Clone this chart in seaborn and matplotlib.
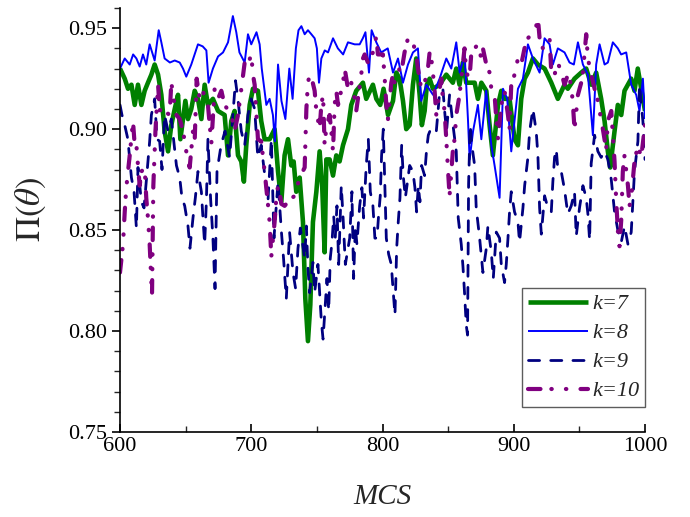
import numpy as np
import matplotlib
matplotlib.use("Agg")
import matplotlib.pyplot as plt
import seaborn as sns
from matplotlib.ticker import MultipleLocator

# ---------------- data ----------------
labels = ["k=7", "k=8", "k=9", "k=10"]

k7_mcs = [600, 603.6, 606.1, 608.7, 611.2, 613.7, 616.3, 618.8, 621.3, 623.9, 626.4, 629, 631.5, 634, 636.6,
          639.1, 641.7, 644.2, 646, 648, 649.8, 651.8, 654.3, 656.9, 659.4, 662, 664.5, 667, 670.8, 674.7,
          679.7, 682.3, 684.8, 687.3, 689.9, 692.4, 694.4, 696.2, 698.8, 701.3, 705.1, 707.6, 710.2, 714,
          717.8, 720.4, 722.9, 725.4, 728, 730.5, 732.3, 734.3, 736.9, 739.4, 741.2, 743.2, 745, 747, 749.6,
          752.1, 754.1, 755.9, 757.2, 759.7, 762.3, 764.8, 767.3, 769.9, 773.7, 776.2, 780, 785.1, 787.6,
          792.7, 795.3, 798.3, 800.8, 804.2, 808, 810.5, 813, 815.6, 818.1, 820.7, 823.2, 825.7, 828.3, 830,
          832.1, 833.8, 835.9, 838.4, 843.5, 848.6, 853.6, 856.2, 858.7, 861.2, 863.8, 867.6, 870.2, 872.7,
          875.3, 879.1, 881.6, 884.1, 888, 890.5, 893, 896.8, 900.6, 903.2, 905.7, 908.3, 910.8, 914.6, 918.4,
          923.5, 928.6, 933.6, 938.7, 941.2, 946.3, 951.4, 955.2, 959, 962.8, 966.6, 969.2, 971.7, 973.5,
          976.8, 979.3, 981.9, 984.4, 989.5, 992, 994.5, 997.1, 1000]
k7_pi = [0.930, 0.925, 0.920, 0.922, 0.912, 0.922, 0.912, 0.919, 0.923, 0.927, 0.932, 0.927, 0.917, 0.899, 0.889,
         0.902, 0.910, 0.917, 0.895, 0.905, 0.914, 0.905, 0.910, 0.919, 0.915, 0.905, 0.922, 0.912, 0.915, 0.909,
         0.907, 0.887, 0.904, 0.909, 0.887, 0.884, 0.874, 0.892, 0.912, 0.920, 0.919, 0.904, 0.895, 0.895,
         0.900, 0.879, 0.864, 0.887, 0.895, 0.882, 0.884, 0.869, 0.876, 0.854, 0.816, 0.795, 0.813, 0.854, 0.869,
         0.889, 0.871, 0.839, 0.885, 0.885, 0.877, 0.887, 0.884, 0.892, 0.900, 0.912, 0.919, 0.923, 0.915,
         0.922, 0.915, 0.912, 0.920, 0.907, 0.914, 0.928, 0.925, 0.914, 0.900, 0.902, 0.922, 0.935, 0.917, 0.902,
         0.909, 0.922, 0.925, 0.920, 0.922, 0.927, 0.923, 0.930, 0.922, 0.933, 0.923, 0.923, 0.923, 0.915,
         0.923, 0.919, 0.902, 0.887, 0.912, 0.919, 0.915, 0.915, 0.895, 0.892, 0.915, 0.925, 0.928, 0.935, 0.932,
         0.930, 0.923, 0.915, 0.922, 0.920, 0.925, 0.928, 0.930, 0.922, 0.928, 0.915, 0.904, 0.889, 0.881,
         0.899, 0.912, 0.907, 0.919, 0.925, 0.919, 0.930, 0.920, 0.909]

k8_mcs = [600, 603.6, 607.4, 610, 612.5, 615, 617.5, 620, 622.6, 626.4, 629.5, 631.5, 634, 638, 641.7, 645.5,
          648, 650.5, 654.3, 659.4, 663, 665.8, 667.5, 670.8, 674.7, 678.5, 682.3, 686, 688.6, 691, 695, 697.5,
          700, 704, 706.4, 708, 711.5, 714, 716.5, 718, 720.4, 723, 726, 729, 731.5, 734, 736, 738.2, 740.7,
          743.2, 745.8, 748.3, 750, 751.6, 753.4, 756, 758.5, 762.3, 766, 770, 773.7, 778.8, 782.6, 785, 787,
          789.7, 791.7, 795.3, 799, 804, 808, 811.8, 815.6, 819.4, 823.2, 827, 829.5, 833.4, 838.5, 843.5,
          848.6, 852.4, 856.2, 858.8, 862.6, 865.1, 866.4, 869, 872.7, 875.3, 879, 882.9, 885.4, 889.2, 891.8,
          895, 898.1, 903.2, 907, 910.8, 914.6, 919.7, 923.5, 927.3, 929.8, 933.6, 938.7, 942.5, 945.8, 948.9,
          952.7, 956.5, 960.3, 962.8, 965.4, 969.2, 971.7, 975.5, 979.3, 981.8, 985.7, 989.5, 993.3, 995.8,
          998.4, 1000]
k8_pi = [0.930, 0.935, 0.932, 0.937, 0.935, 0.931, 0.937, 0.932, 0.942, 0.934, 0.949, 0.943, 0.935, 0.933, 0.934,
         0.933, 0.930, 0.926, 0.932, 0.942, 0.941, 0.939, 0.923, 0.930, 0.936, 0.938, 0.943, 0.956, 0.948, 0.938,
         0.933, 0.947, 0.942, 0.948, 0.942, 0.930, 0.912, 0.915, 0.907, 0.894, 0.932, 0.914, 0.905, 0.930, 0.915,
         0.940, 0.949, 0.951, 0.947, 0.949, 0.947, 0.945, 0.940, 0.923, 0.935, 0.939, 0.938, 0.945, 0.940, 0.937,
         0.943, 0.942, 0.942, 0.945, 0.948, 0.928, 0.949, 0.943, 0.938, 0.940, 0.928, 0.935, 0.923, 0.932, 0.938,
         0.940, 0.914, 0.922, 0.917, 0.925, 0.935, 0.930, 0.943, 0.928, 0.937, 0.905, 0.885, 0.899, 0.912, 0.895,
         0.919, 0.892, 0.882, 0.866, 0.920, 0.915, 0.889, 0.920, 0.925, 0.942, 0.935, 0.928, 0.945, 0.942, 0.932,
         0.940, 0.938, 0.933, 0.932, 0.943, 0.932, 0.927, 0.897, 0.932, 0.942, 0.932, 0.933, 0.943, 0.940, 0.937,
         0.938, 0.922, 0.917, 0.909, 0.925, 0.905]

k9_mcs = [600, 601.5, 603.6, 606, 608.7, 610.7, 612.5, 613.7, 616.3, 618.3, 620, 622.6, 623.9, 626.4, 628.2,
          630.2, 632, 634, 636.6, 639.1, 643, 645.5, 647.2, 649.3, 651.8, 653.3, 655.6, 657.4, 659.4, 662,
          663.2, 664.5, 665.8, 667, 669, 670.8, 672.4, 673.9, 677, 680, 683.5, 686, 688, 690, 692.4, 695, 697.5,
          700, 702.6, 705, 707.6, 710, 712.7, 715.3, 717.3, 720.4, 723, 724.6, 726.7, 729.2, 731.8, 733.8,
          735.6, 737.4, 740.7, 742, 743.2, 744.5, 747, 748.3, 750.8, 753.4, 754.7, 756.4, 757.7, 759, 760.2,
          761.5, 762.8, 764, 765.3, 766.6, 768.6, 769.9, 771.7, 775, 776.7, 778, 779.3, 780.5, 782.6, 784.3,
          785.6, 787.6, 789.2, 790.7, 792.7, 794.2, 795.8, 797, 798.3, 799.3, 800.6, 802.9, 804.7, 806.7, 808,
          809.5, 810.8, 812, 813.3, 814.6, 815.8, 817.4, 820.7, 823.2, 824.7, 826, 827.3, 828.5, 829.8, 832.1,
          833.6, 834.9, 836.1, 838.4, 841, 843.5, 846, 847.6, 848.8, 851.1, 853.7, 856.2, 857.7, 860, 861.3,
          862.5, 863.8, 864.8, 865.6, 866.8, 868.1, 870.2, 871.4, 874, 876.5, 879.1, 880.3, 882.9, 884.4, 886.7,
          889.2, 890.5, 893, 894.3, 895.6, 896.8, 898.1, 900.6, 903.2, 904.4, 907, 908.3, 910.8, 912.1, 914.6,
          917.1, 918.4, 919.7, 921, 923.5, 926, 928.6, 929.8, 931.1, 932.4, 933.6, 936.2, 938.7, 941.2, 943.8,
          946.3, 947.6, 950.1, 952.7, 955.2, 956.5, 957.8, 959, 961.6, 964.1, 966.6, 969.2, 971.7, 974.3, 976.8,
          979.3, 981.9, 984.4, 987, 989.5, 992, 994.6, 995.8, 998.4, 1000]
k9_pi = [0.912, 0.907, 0.902, 0.895, 0.876, 0.869, 0.851, 0.881, 0.864, 0.861, 0.874, 0.894, 0.907, 0.915, 0.895,
         0.894, 0.880, 0.907, 0.899, 0.905, 0.882, 0.876, 0.866, 0.862, 0.852, 0.841, 0.856, 0.866, 0.879, 0.869,
         0.856, 0.843, 0.864, 0.895, 0.866, 0.846, 0.821, 0.879, 0.892, 0.899, 0.886, 0.907, 0.924, 0.914, 0.899,
         0.892, 0.907, 0.915, 0.910, 0.886, 0.892, 0.879, 0.864, 0.895, 0.846, 0.874, 0.849, 0.836, 0.816, 0.849,
         0.829, 0.821, 0.841, 0.851, 0.836, 0.852, 0.831, 0.819, 0.834, 0.819, 0.833, 0.805, 0.796, 0.813, 0.826,
         0.810, 0.836, 0.844, 0.857, 0.846, 0.862, 0.833, 0.872, 0.857, 0.833, 0.846, 0.869, 0.826, 0.852, 0.843,
         0.862, 0.871, 0.856, 0.882, 0.895, 0.869, 0.862, 0.846, 0.846, 0.857, 0.867, 0.887, 0.900, 0.846, 0.838,
         0.833, 0.821, 0.808, 0.841, 0.854, 0.866, 0.892, 0.877, 0.866, 0.882, 0.879, 0.871, 0.859, 0.872, 0.864,
         0.882, 0.877, 0.890, 0.897, 0.899, 0.897, 0.899, 0.918, 0.920, 0.907, 0.899, 0.917, 0.902, 0.889, 0.856,
         0.843, 0.832, 0.819, 0.803, 0.798, 0.873, 0.902, 0.892, 0.882, 0.861, 0.846, 0.829, 0.841, 0.852, 0.839,
         0.826, 0.849, 0.846, 0.833, 0.824, 0.833, 0.846, 0.859, 0.869, 0.859, 0.854, 0.844, 0.861, 0.872, 0.886,
         0.899, 0.910, 0.899, 0.887, 0.861, 0.848, 0.867, 0.861, 0.859, 0.874, 0.886, 0.890, 0.880, 0.879, 0.870,
         0.858, 0.862, 0.869, 0.847, 0.861, 0.872, 0.866, 0.858, 0.845, 0.883, 0.897, 0.889, 0.886, 0.889, 0.885,
         0.875, 0.859, 0.850, 0.844, 0.852, 0.843, 0.849, 0.879, 0.894, 0.922, 0.904, 0.885]

k10_mcs = [600, 602.3, 603.6, 604.8, 606.1, 607.4, 609.9, 611.2, 612.5, 613.7, 615, 616.3, 618.8, 620, 621.3,
           622.6, 623.9, 624.4, 625.4, 627, 629, 630.2, 632, 634, 637.8, 639.1, 640.9, 643, 645.5, 648, 650.5,
           653.1, 655.6, 656.9, 658.4, 660.7, 663.2, 665, 667, 669.6, 672.1, 674.7, 677.2, 679.7, 684.8, 687.3,
           689.9, 695, 697.5, 700, 701.3, 702.6, 705.1, 707.6, 710.2, 712.7, 714, 715.3, 717.8, 719.1, 720.4,
           721.6, 722.9, 725.4, 728, 733, 736.9, 740.7, 742, 743.2, 744.5, 746.5, 748.3, 749.6, 752.1, 753.4,
           754.7, 755.9, 757.2, 759.7, 761, 762.3, 763.5, 764.8, 766.1, 769.9, 771.2, 773.7, 776.2, 778.8, 780,
           783.8, 785.1, 786.4, 788.9, 792.7, 795.3, 796.5, 800.3, 801.6, 802.9, 804.2, 806.7, 808, 809.2, 813,
           814.3, 816.8, 819.4, 821.9, 824.5, 825.7, 827, 829.5, 832.1, 834.6, 835.9, 837.2, 838.4, 839.7, 841,
           843.5, 844.8, 846, 847.3, 848.6, 849.8, 851.1, 853.7, 854.9, 856.2, 858.7, 861.2, 862.5, 863.8, 866.3,
           867.6, 870.2, 872.7, 875.3, 876.5, 879.1, 881.6, 882.9, 885.4, 886.7, 888, 890.5, 893, 895.6, 896.8,
           898.1, 900.6, 903.2, 905.7, 908.2, 910.8, 914.6, 917.1, 918.4, 919.7, 922.2, 924.7, 927.3, 928.6,
           931.1, 933.6, 936.2, 938.7, 941.2, 943.8, 945.1, 946.3, 948.9, 951.4, 952.7, 955.2, 956.5, 959, 961.6,
           964.1, 965.4, 967.9, 970.4, 971.7, 974.3, 975.5, 976.8, 978.1, 979.5, 980.6, 981.9, 983.1, 984.4, 987,
           988.2, 989.5, 992, 994.6, 997.1, 1000]
k10_pi = [0.829, 0.843, 0.859, 0.871, 0.879, 0.887, 0.904, 0.892, 0.892, 0.882, 0.872, 0.879, 0.881, 0.866, 0.856,
          0.843, 0.824, 0.818, 0.872, 0.899, 0.922, 0.910, 0.907, 0.909, 0.907, 0.923, 0.915, 0.907, 0.905, 0.899,
          0.889, 0.881, 0.899, 0.894, 0.925, 0.915, 0.919, 0.914, 0.912, 0.893, 0.920, 0.915, 0.919, 0.912, 0.907,
          0.899, 0.907, 0.933, 0.932, 0.937, 0.927, 0.922, 0.895, 0.894, 0.879, 0.863, 0.854, 0.837, 0.854, 0.866,
          0.872, 0.869, 0.863, 0.862, 0.864, 0.867, 0.876, 0.881, 0.910, 0.923, 0.927, 0.924, 0.919, 0.909, 0.900,
          0.912, 0.917, 0.892, 0.901, 0.907, 0.899, 0.889, 0.912, 0.919, 0.912, 0.923, 0.930, 0.920, 0.923, 0.915,
          0.909, 0.927, 0.935, 0.937, 0.933, 0.938, 0.946, 0.937, 0.937, 0.926, 0.912, 0.905, 0.923, 0.927, 0.923,
          0.930, 0.928, 0.938, 0.945, 0.945, 0.940, 0.937, 0.930, 0.920, 0.923, 0.930, 0.938, 0.935, 0.928, 0.919,
          0.907, 0.920, 0.925, 0.915, 0.909, 0.895, 0.881, 0.867, 0.890, 0.895, 0.907, 0.917, 0.932, 0.940, 0.928,
          0.925, 0.937, 0.940, 0.942, 0.935, 0.940, 0.932, 0.928, 0.920, 0.917, 0.905, 0.895, 0.912, 0.919, 0.907,
          0.900, 0.922, 0.927, 0.935, 0.932, 0.940, 0.945, 0.948, 0.951, 0.955, 0.945, 0.940, 0.943, 0.945, 0.928,
          0.927, 0.933, 0.928, 0.922, 0.927, 0.922, 0.912, 0.900, 0.917, 0.923, 0.928, 0.947, 0.935, 0.927, 0.920,
          0.914, 0.909, 0.900, 0.890, 0.904, 0.909, 0.897, 0.884, 0.864, 0.848, 0.842, 0.855, 0.879, 0.887, 0.872,
          0.862, 0.866, 0.884, 0.892, 0.886, 0.902]

x_ticks = [600, 700, 800, 900, 1000]
y_ticks = [0.75, 0.80, 0.85, 0.90, 0.95]

# ---------------- style ----------------
sns.set_theme(style="ticks")
plt.rcParams["font.family"] = ["Liberation Serif", "DejaVu Serif"]
plt.rcParams["mathtext.fontset"] = "stix"
plt.rcParams["axes.edgecolor"] = "black"
plt.rcParams["axes.linewidth"] = 1.2

fig = plt.figure(figsize=(6.9, 5.17), dpi=100)
ax = fig.add_axes([120 / 690, 1 - 432 / 517, 525 / 690, 424 / 517])

series = [
    (k7_mcs, k7_pi, labels[0], "#008000", 3.3, "-"),
    (k8_mcs, k8_pi, labels[1], "#0000FF", 1.4, "-"),
    (k9_mcs, k9_pi, labels[2], "#000080", 2.0, (0, (4.0, 4.0))),
    (k10_mcs, k10_pi, labels[3], "#800080", 3.0, (0, (3.0, 2.6, 0.1, 3.4, 0.1, 3.4))),
]
for xs, ys, lab, col, lw, ls in series:
    sns.lineplot(x=np.array(xs), y=np.array(ys), ax=ax, color=col, linewidth=lw,
                 linestyle=ls, label=lab, estimator=None, sort=False,
                 dash_capstyle="round", solid_capstyle="butt")

ax.set_xlim(600, 1000)
ax.set_ylim(0.75, 0.96)
ax.set_xticks(x_ticks)
ax.set_yticks(y_ticks)
ax.set_yticklabels([f"{v:.2f}" for v in y_ticks])
ax.xaxis.set_minor_locator(MultipleLocator(50))
ax.yaxis.set_minor_locator(MultipleLocator(0.01))
ax.tick_params(axis="both", which="major", labelsize=16, colors="black", length=6, width=1.2)
ax.tick_params(axis="both", which="minor", length=4, width=1.0)
ax.tick_params(axis="x", which="both", direction="in")
ax.tick_params(axis="y", which="both", direction="out")
for s in ["top", "right"]:
    ax.spines[s].set_visible(False)

ax.set_xlabel("MCS", fontsize=21, style="italic", labelpad=20)
ax.set_ylabel(r"$\Pi(\theta)$", fontsize=25)
ax.yaxis.set_label_coords(-0.138, 0.525)

leg = ax.legend(loc="lower right", bbox_to_anchor=(1.0, 0.059), borderaxespad=0,
                frameon=True, fancybox=False, edgecolor="#333333",
                handlelength=2.7, handletextpad=0.2, labelspacing=0.38,
                borderpad=0.25, prop={"style": "italic", "size": 16})
leg.get_frame().set_linewidth(1.0)

fig.savefig("out.png", dpi=100)
